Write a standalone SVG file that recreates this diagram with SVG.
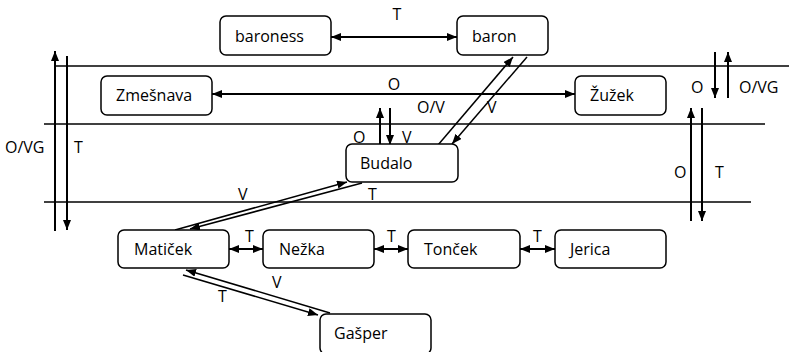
<svg xmlns="http://www.w3.org/2000/svg" width="789" height="352" viewBox="0 0 789 352">
<style>
.box{fill:#fff;stroke:#000;stroke-width:1.5}
.lbl{font-family:"Open Sans","Liberation Sans",sans-serif;font-size:16px;fill:#000}
.ln{stroke:#000;stroke-width:1.5;fill:none}
.ar{stroke:#000;stroke-width:2;fill:none}
.thin{stroke:#000;stroke-width:1.5;fill:none}
</style>
<defs>
<marker id="ah" viewBox="0 0 10 8" refX="10" refY="4" markerWidth="10" markerHeight="8" markerUnits="userSpaceOnUse" orient="auto-start-reverse">
<path d="M0,0 L10,4 L0,8 z" fill="#000"/>
</marker>
</defs>
<g id="bands">
<line class="ln" x1="55" y1="66" x2="789" y2="66"/>
<line class="ln" x1="44" y1="124" x2="765" y2="124"/>
<line class="ln" x1="44" y1="202" x2="751" y2="202"/>
</g>
<g id="connectors">
<line class="ar" x1="331" y1="37" x2="457" y2="37" marker-start="url(#ah)" marker-end="url(#ah)"/>
<line class="ar" x1="212" y1="94" x2="575" y2="94" marker-start="url(#ah)" marker-end="url(#ah)"/>
<line class="ar" x1="55" y1="231" x2="55" y2="51" marker-end="url(#ah)"/>
<line class="ar" x1="67" y1="56" x2="67" y2="230" marker-end="url(#ah)"/>
<line class="ar" x1="715" y1="52" x2="715" y2="98" marker-end="url(#ah)"/>
<line class="ar" x1="728" y1="98" x2="728" y2="52" marker-end="url(#ah)"/>
<line class="ar" x1="691" y1="221" x2="691" y2="108" marker-end="url(#ah)"/>
<line class="ar" x1="702" y1="108" x2="702" y2="221" marker-end="url(#ah)"/>
<line class="ar" x1="380" y1="145" x2="380" y2="108" marker-end="url(#ah)"/>
<line class="ar" x1="390" y1="108" x2="390" y2="145" marker-end="url(#ah)"/>
<line class="thin" x1="438" y1="145" x2="513" y2="57" marker-end="url(#ah)"/>
<line class="thin" x1="527" y1="57" x2="452" y2="144" marker-end="url(#ah)"/>
<line class="thin" x1="175" y1="230" x2="347" y2="182" marker-end="url(#ah)"/>
<line class="thin" x1="362" y1="183" x2="190" y2="229" marker-end="url(#ah)"/>
<line class="thin" x1="330" y1="313" x2="186" y2="270" marker-end="url(#ah)"/>
<line class="thin" x1="183" y1="275" x2="318" y2="315" marker-end="url(#ah)"/>
<line class="ar" x1="229" y1="249" x2="263" y2="249" marker-start="url(#ah)" marker-end="url(#ah)"/>
<line class="ar" x1="374" y1="249" x2="408" y2="249" marker-start="url(#ah)" marker-end="url(#ah)"/>
<line class="ar" x1="520" y1="249" x2="555" y2="249" marker-start="url(#ah)" marker-end="url(#ah)"/>
<text class="lbl" x="397" y="20" text-anchor="middle">T</text>
<text class="lbl" x="394" y="90" text-anchor="middle">O</text>
<text class="lbl" x="417" y="113">O/V</text>
<text class="lbl" x="487" y="113">V</text>
<text class="lbl" x="353" y="143">O</text>
<text class="lbl" x="402" y="143">V</text>
<text class="lbl" x="368" y="200">T</text>
<text class="lbl" x="238" y="200">V</text>
<text class="lbl" x="272" y="288">V</text>
<text class="lbl" x="218" y="302">T</text>
<text class="lbl" x="245" y="242">T</text>
<text class="lbl" x="387" y="242">T</text>
<text class="lbl" x="533" y="242">T</text>
<text class="lbl" x="5" y="153">O/VG</text>
<text class="lbl" x="74" y="153">T</text>
<text class="lbl" x="691" y="93">O</text>
<text class="lbl" x="739" y="93">O/VG</text>
<text class="lbl" x="674" y="178">O</text>
<text class="lbl" x="715" y="178">T</text>
</g>
<g id="baroness"><rect class="box" x="220" y="16" width="111" height="39" rx="6"/><text class="lbl" x="235" y="42">baroness</text></g>
<g id="baron"><rect class="box" x="457" y="16" width="91" height="39" rx="6"/><text class="lbl" x="472" y="42">baron</text></g>
<g id="zmesnava"><rect class="box" x="101" y="76" width="111" height="39" rx="6"/><text class="lbl" x="116" y="101">Zmešnava</text></g>
<g id="zuzek"><rect class="box" x="575" y="76" width="91" height="39" rx="6"/><text class="lbl" x="590" y="101">Žužek</text></g>
<g id="budalo"><rect class="box" x="346" y="144" width="112" height="38" rx="6"/><text class="lbl" x="360" y="169">Budalo</text></g>
<g id="maticek"><rect class="box" x="118" y="230" width="111" height="38" rx="6"/><text class="lbl" x="134" y="255">Matiček</text></g>
<g id="nezka"><rect class="box" x="263" y="230" width="111" height="38" rx="6"/><text class="lbl" x="279" y="255">Nežka</text></g>
<g id="toncek"><rect class="box" x="408" y="230" width="112" height="38" rx="6"/><text class="lbl" x="424" y="255">Tonček</text></g>
<g id="jerica"><rect class="box" x="555" y="230" width="111" height="38" rx="6"/><text class="lbl" x="570" y="255">Jerica</text></g>
<g id="gasper"><rect class="box" x="320" y="314" width="111" height="40" rx="6"/><text class="lbl" x="334" y="339">Gašper</text></g>
</svg>
